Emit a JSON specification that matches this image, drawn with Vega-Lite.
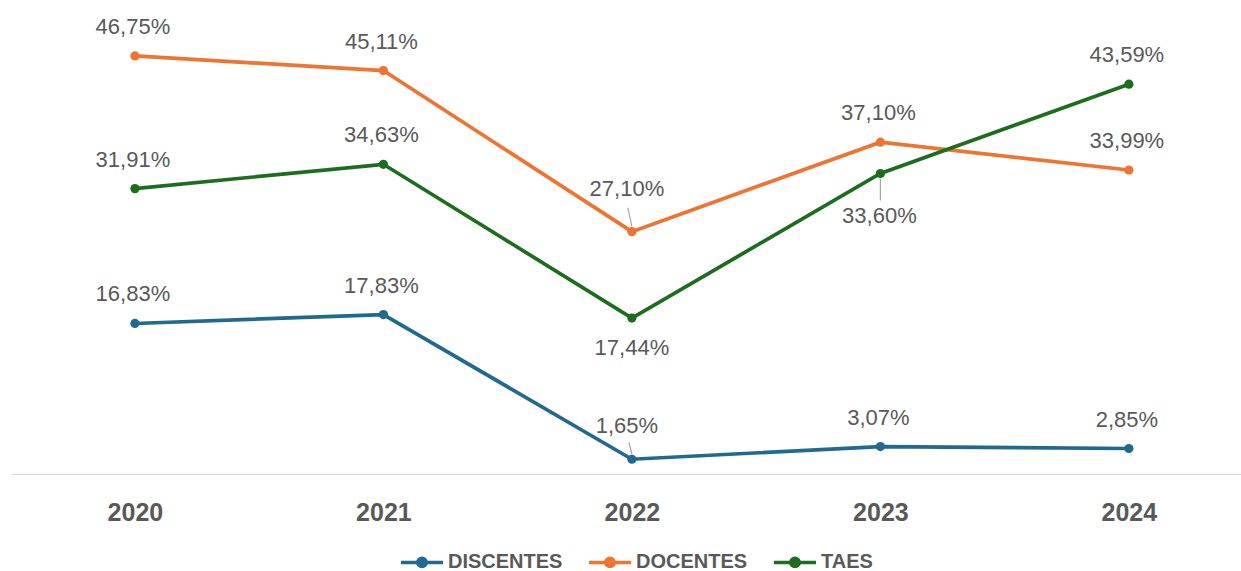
{
  "$schema": "https://vega.github.io/schema/vega-lite/v6.json",
  "autosize": {"type": "none"},
  "width": 1230,
  "height": 474,
  "padding": {"left": 11, "top": 0, "right": 0, "bottom": 97},
  "background": "white",
  "config": {
    "view": {"stroke": null},
    "font": "Liberation Sans",
    "locale": {"number": {"decimal": ",", "thousands": ".", "grouping": [3], "currency": ["R$", ""]}}
  },
  "data": {
    "values": [
      {"ano": "2020", "grupo": "DISCENTES", "valor": 0.1683},
      {"ano": "2021", "grupo": "DISCENTES", "valor": 0.1783},
      {"ano": "2022", "grupo": "DISCENTES", "valor": 0.0165},
      {"ano": "2023", "grupo": "DISCENTES", "valor": 0.0307},
      {"ano": "2024", "grupo": "DISCENTES", "valor": 0.0285},
      {"ano": "2020", "grupo": "DOCENTES", "valor": 0.4675},
      {"ano": "2021", "grupo": "DOCENTES", "valor": 0.4511},
      {"ano": "2022", "grupo": "DOCENTES", "valor": 0.2710},
      {"ano": "2023", "grupo": "DOCENTES", "valor": 0.3710},
      {"ano": "2024", "grupo": "DOCENTES", "valor": 0.3399},
      {"ano": "2020", "grupo": "TAES", "valor": 0.3191},
      {"ano": "2021", "grupo": "TAES", "valor": 0.3463},
      {"ano": "2022", "grupo": "TAES", "valor": 0.1744},
      {"ano": "2023", "grupo": "TAES", "valor": 0.3360},
      {"ano": "2024", "grupo": "TAES", "valor": 0.4359}
    ]
  },
  "encoding": {
    "x": {
      "field": "ano", "type": "ordinal",
      "scale": {"type": "point", "padding": 0.475, "align": 0.525},
      "axis": {
        "title": null, "labelAngle": 0, "ticks": false, "grid": false,
        "domainColor": "#D9D9D9", "domainWidth": 1.2,
        "labelFont": "Liberation Sans", "labelFontSize": 25, "labelFontWeight": "bold",
        "labelColor": "#595959", "labelPadding": 26
      }
    },
    "y": {
      "field": "valor", "type": "quantitative",
      "scale": {"domain": [0, 0.53], "nice": false, "zero": true},
      "axis": null
    }
  },
  "layer": [
    {
      "transform": [{"filter": "datum.ano == '2022' && datum.grupo == 'DOCENTES'"}],
      "mark": {"type": "rule", "color": "#A6A6A6", "strokeWidth": 1.2, "yOffset": -5, "y2Offset": -24, "x2Offset": -4},
      "encoding": {"x2": {"field": "ano"}, "y2": {"field": "valor"}}
    },
    {
      "transform": [{"filter": "datum.ano == '2022' && datum.grupo == 'DISCENTES'"}],
      "mark": {"type": "rule", "color": "#A6A6A6", "strokeWidth": 1.2, "yOffset": -5, "y2Offset": -17, "x2Offset": -3},
      "encoding": {"x2": {"field": "ano"}, "y2": {"field": "valor"}}
    },
    {
      "transform": [{"filter": "datum.ano == '2023' && datum.grupo == 'TAES'"}],
      "mark": {"type": "rule", "color": "#A6A6A6", "strokeWidth": 1.2, "yOffset": 5, "y2Offset": 27, "x2Offset": 0},
      "encoding": {"x2": {"field": "ano"}, "y2": {"field": "valor"}}
    },
    {
      "mark": {"type": "line", "strokeWidth": 3.7, "point": {"filled": true, "size": 85}},
      "encoding": {
        "color": {
          "field": "grupo", "type": "nominal",
          "scale": {"domain": ["DISCENTES", "DOCENTES", "TAES"], "range": ["#1F6A8E", "#ED7431", "#1C6E1E"]},
          "legend": {
            "title": null, "orient": "none", "direction": "horizontal",
            "legendX": 388, "legendY": 539, "padding": 0,
            "symbolType": "M-1,0L1,0M-0.2,0A0.2,0.2 0 1,0 0.2,0A0.2,0.2 0 1,0 -0.2,0",
            "symbolSize": 1764, "symbolStrokeWidth": 3.5,
            "labelFont": "Liberation Sans", "labelFontSize": 20, "labelFontWeight": "bold",
            "labelColor": "#595959", "labelOffset": 3, "columnPadding": 19,
            "encode": {
              "symbols": {"update": {
                "fill": {"scale": "color", "field": "value"},
                "stroke": {"scale": "color", "field": "value"},
                "strokeWidth": {"value": 3.5},
                "opacity": {"value": 1}
              }}
            }
          }
        }
      }
    },
    {
      "transform": [{"filter": "!((datum.ano == '2022') || (datum.ano == '2023' && datum.grupo == 'TAES'))"}],
      "mark": {"type": "text", "dy": -29, "dx": -2, "baseline": "middle", "fontSize": 22, "color": "#595959"},
      "encoding": {"text": {"field": "valor", "type": "quantitative", "format": ".2%"}}
    },
    {
      "transform": [{"filter": "datum.ano == '2022' && datum.grupo == 'TAES'"}],
      "mark": {"type": "text", "dy": 30, "dx": 0, "baseline": "middle", "fontSize": 22, "color": "#595959"},
      "encoding": {"text": {"field": "valor", "type": "quantitative", "format": ".2%"}}
    },
    {
      "transform": [{"filter": "datum.ano == '2023' && datum.grupo == 'TAES'"}],
      "mark": {"type": "text", "dy": 42, "dx": -1, "baseline": "middle", "fontSize": 22, "color": "#595959"},
      "encoding": {"text": {"field": "valor", "type": "quantitative", "format": ".2%"}}
    },
    {
      "transform": [{"filter": "datum.ano == '2022' && datum.grupo == 'DOCENTES'"}],
      "mark": {"type": "text", "dy": -43, "dx": -5, "baseline": "middle", "fontSize": 22, "color": "#595959"},
      "encoding": {"text": {"field": "valor", "type": "quantitative", "format": ".2%"}}
    },
    {
      "transform": [{"filter": "datum.ano == '2022' && datum.grupo == 'DISCENTES'"}],
      "mark": {"type": "text", "dy": -33, "dx": -5, "baseline": "middle", "fontSize": 22, "color": "#595959"},
      "encoding": {"text": {"field": "valor", "type": "quantitative", "format": ".2%"}}
    }
  ]
}
